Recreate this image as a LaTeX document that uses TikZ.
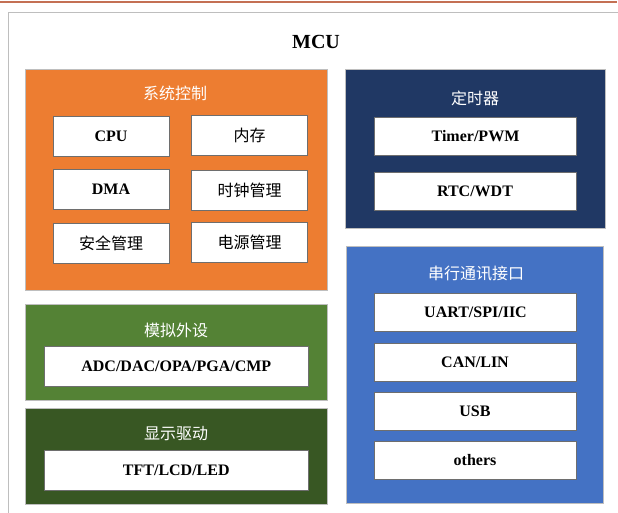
\documentclass[tikz,border=0pt]{standalone}
\usepackage{fontspec}
\setmainfont{Liberation Serif}
\newfontfamily\cjk{Noto Sans CJK SC}
\definecolor{topline}{RGB}{196,112,84}
\definecolor{frame}{RGB}{190,190,190}
\definecolor{sysor}{RGB}{237,125,49}
\definecolor{tmnavy}{RGB}{32,56,100}
\definecolor{angreen}{RGB}{84,130,53}
\definecolor{dkgreen}{RGB}{56,87,35}
\definecolor{serblue}{RGB}{68,114,196}
\definecolor{wborder}{RGB}{110,110,110}
\tikzset{
  grp/.style={draw=frame, line width=0.8pt, inner sep=0pt},
  wbox/.style={draw=wborder, line width=0.8pt, fill=white, inner sep=0pt, font=\fontsize{16}{19}\selectfont\bfseries},
  cbox/.style={wbox, font=\fontsize{16}{19}\selectfont\cjk},
  ttl/.style={text=white, inner sep=0pt, font=\fontsize{16}{19}\selectfont\cjk},
}
\begin{document}
\begin{tikzpicture}[x=1pt,y=-1pt]
\useasboundingbox (0,0) rectangle (618,513);
\fill[white] (0,0) rectangle (618,513);
\draw[topline, line width=2.5pt] (0,2) -- (617,2);
\draw[frame, line width=1.3pt] (620,12.5) -- (8.5,12.5) -- (8.5,516);
\node[inner sep=0pt, font=\fontsize{20}{24}\selectfont\bfseries] (mcu) at (316,42) {MCU};
% system control
\node[grp, fill=sysor, minimum width=302, minimum height=221] (sys) at (176,179.5) {};
\node[ttl] (systtl) at (175,93) {系统控制};
\node[wbox, minimum width=116, minimum height=40] (cpu) at (111,136) {CPU};
\node[cbox, minimum width=116, minimum height=40] (mem) at (249.5,135) {内存};
\node[wbox, minimum width=116, minimum height=40] (dma) at (111,189.5) {DMA};
\node[cbox, minimum width=116, minimum height=40] (clk) at (249.5,190) {时钟管理};
\node[cbox, minimum width=116, minimum height=40] (sec) at (111,243) {安全管理};
\node[cbox, minimum width=116, minimum height=40] (pwr) at (249.5,242) {电源管理};
% timers
\node[grp, fill=tmnavy, minimum width=260, minimum height=159] (tim) at (475,148.5) {};
\node[ttl] (timttl) at (475,98) {定时器};
\node[wbox, minimum width=202, minimum height=38] (pwm) at (475.5,136.5) {Timer/PWM};
\node[wbox, minimum width=202, minimum height=38] (rtc) at (475,191) {RTC/WDT};
% analog
\node[grp, fill=angreen, minimum width=302, minimum height=96] (ana) at (176,352) {};
\node[ttl] (anattl) at (176,330) {模拟外设};
\node[wbox, minimum width=264, minimum height=40] (adc) at (176.3,366.7) {ADC/DAC/OPA/PGA/CMP};
% display
\node[grp, fill=dkgreen, minimum width=302, minimum height=96] (dsp) at (176,456.3) {};
\node[ttl] (dspttl) at (176,433.3) {显示驱动};
\node[wbox, minimum width=264, minimum height=40] (tft) at (176.3,470) {TFT/LCD/LED};
% serial
\node[grp, fill=serblue, minimum width=257, minimum height=257] (ser) at (474.7,374.7) {};
\node[ttl] (serttl) at (476,273.3) {串行通讯接口};
\node[wbox, minimum width=202, minimum height=38] (uart) at (475.5,312.2) {UART/SPI/IIC};
\node[wbox, minimum width=202, minimum height=38] (can) at (475,362.2) {CAN/LIN};
\node[wbox, minimum width=202, minimum height=38] (usb) at (475,411.3) {USB};
\node[wbox, minimum width=202, minimum height=38] (oth) at (475,460.5) {others};
\end{tikzpicture}
\end{document}
